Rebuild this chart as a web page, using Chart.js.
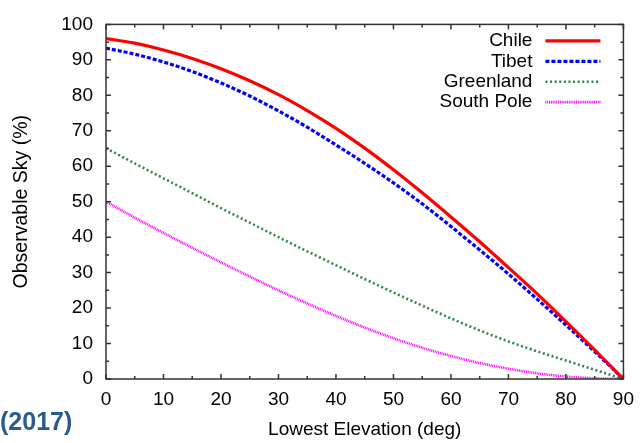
<!DOCTYPE html>
<html>
<head>
<meta charset="utf-8">
<title>Observable Sky vs Lowest Elevation</title>
<script src="https://cdn.jsdelivr.net/npm/chart.js@4.4.1/dist/chart.umd.min.js"></script>
<style>
  html, body { margin: 0; padding: 0; background: #fff; }
  #wrap { position: relative; width: 643px; height: 443px; overflow: hidden; }
  #year {
    position: absolute; left: 0; top: 409px;
    font: bold 25px 'Liberation Sans', Arial, sans-serif;
    line-height: 25px; color: #2b5b8c;
  }
</style>
</head>
<body>
<div id="wrap">
  <canvas id="sky" width="643" height="443"></canvas>
  <div id="year">(2017)</div>
</div>
<script>
// ─── Data ────────────────────────────────────────────────────
const ELEVATION  = [0, 5, 10, 15, 20, 25, 30, 35, 40, 45, 50, 55, 60, 65, 70, 75, 80, 85, 90];
const CHILE      = [96.0, 94.7, 92.8, 90.4, 87.5, 84.1, 80.2, 75.7, 70.7, 65.1, 59.0, 52.5, 45.7, 38.7, 31.4, 24.0, 16.2, 8.2, 0];
const TIBET      = [93.3, 91.6, 89.4, 86.7, 83.5, 79.8, 75.6, 71.0, 66.0, 60.8, 55.3, 49.4, 43.0, 36.4, 29.6, 22.5, 15.2, 7.7, 0];
const GREENLAND  = [65.1, 60.8, 56.6, 52.4, 48.2, 44.1, 40.0, 36.0, 32.1, 28.2, 24.4, 20.7, 17.1, 13.7, 10.6, 7.8, 5.2, 2.6, 0];
const SOUTH_POLE = [50.0, 45.5, 41.2, 37.0, 32.9, 28.9, 25.0, 21.3, 17.8, 14.5, 11.5, 8.8, 6.5, 4.5, 2.9, 1.6, 0.7, 0.2, 0];

const X_MIN = 0, X_MAX = 90, X_STEP = 10;
const Y_MIN = 0, Y_MAX = 100, Y_STEP = 10;

const FONT = "'Liberation Sans', Arial, Helvetica, sans-serif";

// ─── Series styles (gnuplot-like) ────────────────────────────
const SERIES = [
  { label: 'Chile',      values: CHILE,      color: '#ff0000', width: 3.2, dash: [] },
  { label: 'Tibet',      values: TIBET,      color: '#0000ff', width: 3.2, dash: [4, 2] },
  { label: 'Greenland',  values: GREENLAND,  color: '#2a8a45', width: 2.6, dash: [2, 2.6] },
  { label: 'South Pole', values: SOUTH_POLE, color: '#ff00ff', width: 2.6, dash: [1, 0.8] },
];

/**
 * Frame around the plot area plus inward major/minor ticks on all sides.
 */
const frameTicks = {
  id: 'frameTicks',
  afterDatasetsDraw(chart) {
    const { ctx, chartArea: a, scales: { x, y } } = chart;
    ctx.save();
    ctx.strokeStyle = '#333';
    ctx.lineWidth = 1.5;
    ctx.setLineDash([]);
    ctx.beginPath();
    for (let v = x.min; v <= x.max; v += X_STEP / 2) {
      const px = x.getPixelForValue(v);
      const len = v % X_STEP === 0 ? 5 : 3;
      ctx.moveTo(px, a.bottom); ctx.lineTo(px, a.bottom - len);
      ctx.moveTo(px, a.top);    ctx.lineTo(px, a.top + len);
    }
    for (let v = y.min; v <= y.max; v += Y_STEP / 2) {
      const py = y.getPixelForValue(v);
      const len = v % Y_STEP === 0 ? 5 : 3;
      ctx.moveTo(a.left, py);  ctx.lineTo(a.left + len, py);
      ctx.moveTo(a.right, py); ctx.lineTo(a.right - len, py);
    }
    ctx.stroke();
    ctx.strokeRect(a.left, a.top, a.right - a.left, a.bottom - a.top);
    ctx.restore();
  },
};

/**
 * Key in the upper right: label right-aligned, line sample after it.
 */
const keyBox = {
  id: 'keyBox',
  afterDraw(chart) {
    const { ctx, chartArea: a } = chart;
    const textRight = a.right - 91;
    const lineX0 = a.right - 78, lineX1 = a.right - 23;
    ctx.save();
    ctx.font = `19px ${FONT}`;
    ctx.textAlign = 'right';
    ctx.textBaseline = 'middle';
    chart.data.datasets.forEach((ds, i) => {
      const yy = a.top + 16.5 + i * 20.4;
      ctx.fillStyle = '#000';
      ctx.fillText(ds.label, textRight, yy);
      ctx.strokeStyle = ds.borderColor;
      ctx.lineWidth = ds.borderWidth;
      ctx.setLineDash(ds.borderDash);
      ctx.beginPath();
      ctx.moveTo(lineX0, yy);
      ctx.lineTo(lineX1, yy);
      ctx.stroke();
    });
    ctx.restore();
  },
};

new Chart(document.getElementById('sky'), {
  type: 'line',
  data: {
    datasets: SERIES.map(s => ({
      label:           s.label,
      data:            ELEVATION.map((e, i) => ({ x: e, y: s.values[i] })),
      borderColor:     s.color,
      backgroundColor: s.color,
      borderWidth:     s.width,
      borderDash:      s.dash,
      borderCapStyle:  'butt',
      pointRadius:     0,
      fill:            false,
      cubicInterpolationMode: 'monotone',
    })),
  },
  options: {
    responsive: false,
    devicePixelRatio: 1,
    animation: false,
    layout: { padding: { top: 13, right: 15, left: 0, bottom: 0 } },
    plugins: {
      legend:  { display: false },
      tooltip: { enabled: false },
    },
    scales: {
      x: {
        type: 'linear',
        min: X_MIN, max: X_MAX,
        afterFit: s => { s.height = 64; },
        ticks: { stepSize: X_STEP, padding: 9, color: '#000', font: { family: FONT, size: 19 } },
        grid:   { display: false, drawTicks: false },
        border: { display: false },
        title:  { display: true, text: 'Lowest Elevation (deg)', color: '#000',
                  font: { family: FONT, size: 19 }, padding: { top: 0, bottom: 2 } },
      },
      y: {
        type: 'linear',
        min: Y_MIN, max: Y_MAX,
        afterFit: s => { s.width = 106; },
        ticks: { stepSize: Y_STEP, padding: 13, color: '#000', font: { family: FONT, size: 19 } },
        grid:   { display: false, drawTicks: false },
        border: { display: false },
        title:  { display: true, text: 'Observable Sky (%)', color: '#000',
                  font: { family: FONT, size: 19.5 }, padding: { top: 10, bottom: 0 } },
      },
    },
  },
  plugins: [frameTicks, keyBox],
});
</script>
</body>
</html>
